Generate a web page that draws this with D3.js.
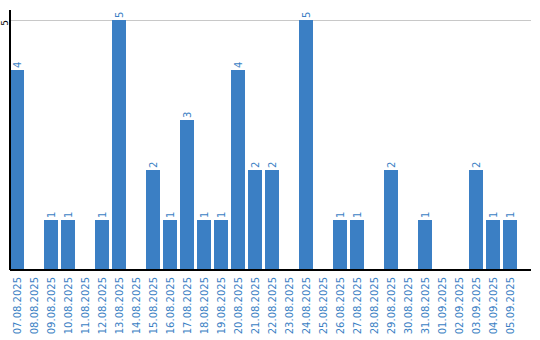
<!DOCTYPE html>
<html><head><meta charset="utf-8">
<script src="https://cdn.jsdelivr.net/npm/d3@7"></script>
<style>html,body{margin:0;padding:0;background:#fff;}svg{display:block;}</style>
</head><body>
<svg id="c" width="540" height="340"></svg>
<script>
const categories = ["07.08.2025","08.08.2025","09.08.2025","10.08.2025","11.08.2025","12.08.2025","13.08.2025","14.08.2025","15.08.2025","16.08.2025","17.08.2025","18.08.2025","19.08.2025","20.08.2025","21.08.2025","22.08.2025","23.08.2025","24.08.2025","25.08.2025","26.08.2025","27.08.2025","28.08.2025","29.08.2025","30.08.2025","31.08.2025","01.09.2025","02.09.2025","03.09.2025","04.09.2025","05.09.2025"];
const values = [4,0,1,1,0,1,5,0,2,1,3,1,1,4,2,2,0,5,0,1,1,0,2,0,1,0,0,2,1,1];
const yTicks = [5];

const svg = d3.select("#c");
const font = "DejaVu Sans, Verdana, sans-serif";
const blue = "#3b7fc4";
const x = d3.scaleBand().domain(categories).range([10, 517]).paddingInner(3/17).paddingOuter(0);
const y = d3.scaleLinear().domain([0, 5]).range([270, 20]);
const data = categories.map((c, i) => ({c, v: values[i]}));

// gridline
svg.selectAll("line.grid").data(yTicks).enter().append("line")
  .attr("x1", 10).attr("x2", 531).attr("y1", d => y(d)).attr("y2", d => y(d))
  .attr("stroke", "#c8c8c8").attr("stroke-width", 1).attr("shape-rendering", "crispEdges");

// bars
svg.selectAll("rect.bar").data(data).enter().append("rect")
  .attr("x", d => x(d.c)).attr("width", x.bandwidth())
  .attr("y", d => y(d.v)).attr("height", d => y(0) - y(d.v))
  .attr("fill", blue).attr("shape-rendering", "crispEdges");

// value labels
svg.selectAll("text.val").data(data.filter(d => d.v > 0)).enter().append("text")
  .attr("transform", d => `translate(${x(d.c) + x.bandwidth() / 2 + 3.5},${y(d.v) - 2}) rotate(-90)`)
  .attr("text-anchor", "start").attr("fill", blue)
  .attr("font-family", font).attr("font-size", 10).text(d => d.v);

// x labels
svg.selectAll("text.xl").data(categories).enter().append("text")
  .attr("transform", d => `translate(${x(d) + x.bandwidth() / 2 + 3.5},277) rotate(-90)`)
  .attr("text-anchor", "end").attr("fill", blue)
  .attr("font-family", font).attr("font-size", 10).text(d => d);

// y tick labels
svg.selectAll("text.yl").data(yTicks).enter().append("text")
  .attr("transform", d => `translate(7.5,${y(d) + 3}) rotate(-90)`)
  .attr("text-anchor", "middle").attr("fill", "#000")
  .attr("font-family", font).attr("font-size", 9).text(d => d);

// axes
svg.append("line").attr("x1", 10).attr("x2", 10).attr("y1", 10).attr("y2", 270)
  .attr("stroke", "#000").attr("stroke-width", 2);
svg.append("line").attr("x1", 10).attr("x2", 531).attr("y1", 270).attr("y2", 270)
  .attr("stroke", "#000").attr("stroke-width", 2);
</script>
</body></html>
